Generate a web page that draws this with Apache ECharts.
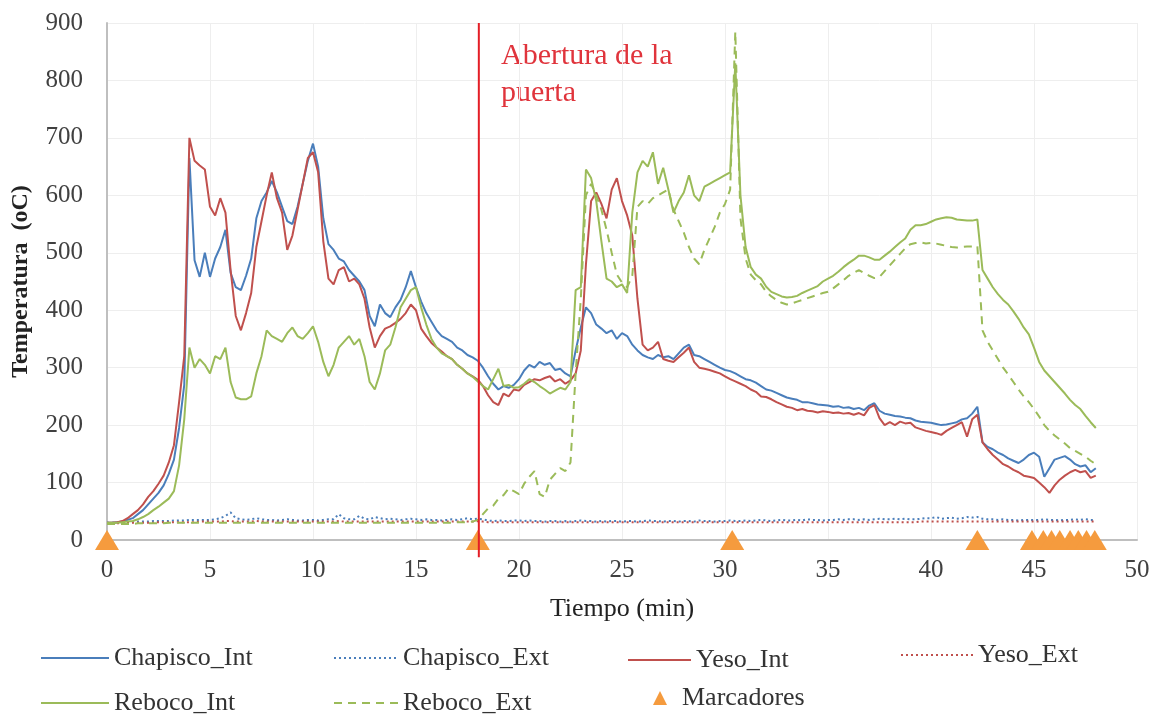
<!DOCTYPE html>
<html>
<head>
<meta charset="utf-8">
<script src="https://cdn.jsdelivr.net/npm/echarts@6/dist/echarts.min.js"></script>
<style>
html,body{margin:0;padding:0;background:#fff;}
#chart{width:1154px;height:716px;}
</style>
</head>
<body>
<div id="chart"></div>
<script>
// Sample times (min)
const tiempo = [
0,0.25,0.5,0.75,1,1.25,1.5,1.75,2,2.25,2.5,2.75,3,3.25,3.5,3.75,4,4.25,4.5,4.75,
5,5.25,5.5,5.75,6,6.25,6.5,6.75,7,7.25,7.5,7.75,8,8.25,8.5,8.75,9,9.25,9.5,9.75,
10,10.25,10.5,10.75,11,11.25,11.5,11.75,12,12.25,12.5,12.75,13,13.25,13.5,13.75,14,14.25,14.5,14.75,
15,15.25,15.5,15.75,16,16.25,16.5,16.75,17,17.25,17.5,17.75,18,18.25,18.5,18.75,19,19.25,19.5,19.75,
20,20.25,20.5,20.75,21,21.25,21.5,21.75,22,22.25,22.5,22.75,23,23.25,23.5,23.75,24,24.25,24.5,24.75,
25,25.25,25.5,25.75,26,26.25,26.5,26.75,27,27.25,27.5,27.75,28,28.25,28.5,28.75,29,29.25,29.5,29.75,
30,30.25,30.5,30.75,31,31.25,31.5,31.75,32,32.25,32.5,32.75,33,33.25,33.5,33.75,34,34.25,34.5,34.75,
35,35.25,35.5,35.75,36,36.25,36.5,36.75,37,37.25,37.5,37.75,38,38.25,38.5,38.75,39,39.25,39.5,39.75,
40,40.25,40.5,40.75,41,41.25,41.5,41.75,42,42.25,42.5,42.75,43,43.25,43.5,43.75,44,44.25,44.5,44.75,
45,45.25,45.5,45.75,46,46.25,46.5,46.75,47,47.25,47.5,47.75,
48
];

const chapiscoInt = [
30,30,31,32,35,38,45,52,62,72,82,95,115,140,195,270,665,487,458,500,
458,490,510,540,465,440,435,460,490,560,590,605,625,605,580,555,550,580,620,660,
690,650,560,515,505,490,485,470,460,450,435,390,372,410,395,388,405,418,440,468,
440,415,395,380,365,355,350,345,335,330,322,318,312,300,285,272,262,268,265,270,
280,295,305,300,310,305,308,296,298,290,285,330,370,405,395,375,368,360,365,350,
360,355,340,330,322,318,315,322,318,320,315,325,335,340,322,320,315,310,305,300,
296,294,290,285,280,278,274,268,262,260,256,252,248,246,244,240,240,238,236,235,
234,232,233,230,231,228,230,226,234,238,225,220,218,216,215,213,212,208,206,205,
204,202,200,201,203,205,210,212,220,232,170,162,158,152,148,142,138,134,140,148,
152,145,110,125,140,143,146,140,132,128,130,118,
125
];

const chapiscoExt = [
30,30,30,30,31,31,32,32,32,33,33,33,33,34,34,34,35,35,35,35,
35,36,38,42,48,38,36,35,36,38,36,35,35,34,35,36,35,34,34,35,
35,34,35,36,36,45,38,36,36,42,37,36,40,38,36,37,36,35,36,37,
36,35,36,35,35,34,35,36,35,36,38,36,37,36,34,33,34,33,33,34,
34,33,34,33,33,32,33,33,32,33,32,33,34,33,33,32,33,32,33,33,
32,33,33,32,33,34,33,33,32,33,33,32,33,33,32,34,33,33,32,33,
33,34,33,33,34,33,34,35,34,33,34,35,34,34,35,34,36,35,35,34,
35,35,36,35,36,36,35,36,35,36,37,36,36,37,36,37,36,36,37,38,
38,40,37,38,39,37,38,40,39,40,37,36,36,35,36,35,35,34,35,35,
35,35,36,35,35,34,35,35,36,35,36,35,
35
];

const yesoInt = [
30,30,31,33,38,45,52,62,75,85,98,112,135,165,240,320,700,660,652,645,
580,565,595,570,470,390,365,395,430,510,555,600,640,595,570,505,530,575,620,665,
675,640,520,455,445,470,475,450,455,445,420,370,335,355,368,372,378,385,395,410,
400,368,355,343,335,328,320,315,305,298,290,285,279,268,252,240,235,255,250,262,
260,270,275,280,278,282,285,276,280,272,278,290,330,480,590,605,585,560,610,630,
590,565,530,420,340,330,335,345,315,312,310,318,326,335,310,300,298,296,293,290,
285,280,276,272,268,262,258,250,249,245,240,236,232,230,226,228,225,224,222,224,
223,221,222,220,221,218,221,217,230,235,212,200,205,200,206,203,204,196,193,190,
188,186,183,190,195,200,205,180,210,218,170,158,148,140,132,128,122,118,112,110,
108,100,92,82,95,105,112,118,122,118,120,108,
112
];

const yesoExt = [
29,29,29,30,30,30,30,30,30,30,31,31,31,31,31,31,31,31,32,32,
32,32,32,33,33,32,32,32,32,33,32,32,32,32,32,32,32,32,32,32,
32,32,32,32,32,33,32,32,32,32,32,32,32,32,32,32,32,32,32,32,
32,32,32,32,32,32,32,32,32,32,32,32,33,32,31,31,31,31,31,31,
31,31,31,31,31,31,31,31,31,31,31,31,31,31,31,31,31,31,31,31,
31,31,31,31,31,31,31,31,31,31,31,31,31,31,31,31,31,31,31,31,
31,31,31,31,31,31,31,31,31,31,31,31,31,31,31,31,31,31,31,31,
31,31,31,31,31,31,31,31,31,31,31,31,31,31,31,31,31,31,32,32,
32,32,32,32,32,32,32,32,32,32,32,32,32,32,32,32,32,32,32,32,
32,32,32,32,32,32,32,32,32,32,32,32,
32
];

const rebocoInt = [
30,30,30,31,32,33,36,40,45,52,58,65,72,85,130,210,335,300,315,305,
290,320,315,335,275,248,245,245,250,290,320,365,355,350,345,360,370,355,350,360,
372,345,310,285,305,335,345,355,340,350,320,275,262,290,330,340,370,405,420,435,
440,405,375,350,335,325,320,315,305,298,290,284,276,268,262,280,298,268,270,265,
266,272,280,275,268,262,255,260,265,262,275,435,440,645,630,590,520,455,450,440,
445,430,570,640,660,650,675,620,648,610,570,590,605,635,600,590,615,620,625,630,
635,640,830,600,510,475,462,455,441,432,428,424,422,423,425,430,434,438,442,450,
455,460,467,475,482,488,495,495,492,488,488,495,502,510,518,525,540,548,548,550,
554,558,560,562,561,558,557,556,556,558,470,455,440,428,418,410,398,385,370,358,
335,310,295,285,275,265,255,244,235,228,216,205,
195
];

const rebocoExt = [
28,28,28,28,28,28,29,29,29,29,29,29,30,30,30,30,30,30,30,30,
30,30,30,30,30,30,30,30,30,30,30,30,30,30,30,30,30,30,30,30,
30,30,30,30,30,30,30,30,30,30,30,30,30,30,30,30,30,30,30,30,
30,30,30,30,30,30,30,30,31,31,31,32,35,45,55,60,72,78,90,85,
80,98,110,120,80,75,105,115,125,120,135,290,420,600,620,600,575,540,500,462,
448,440,460,580,590,585,595,600,605,610,575,555,535,510,490,480,505,525,545,570,
585,610,885,560,490,462,452,445,432,424,418,413,410,412,415,418,421,424,427,430,
432,438,445,452,460,465,470,465,460,456,458,468,478,488,498,508,515,517,518,516,
517,516,514,512,510,509,510,511,511,512,365,345,330,315,300,288,275,262,250,240,
228,215,200,190,182,175,168,160,155,150,145,138,
132
];

const marcadoresT = [0, 18.0, 30.35, 42.25, 44.9, 45.45, 45.85, 46.25, 46.75, 47.15, 47.55, 47.95];
const marcadoresV = [0, 0, 0, 0, 0, 0, 0, 0, 0, 0, 0, 0];

const aperturaT = 18.05;
const aperturaLabel = 'Abertura de la\npuerta';

const xTicks = {min: 0, max: 50, interval: 5};
const yTicks = {min: 0, max: 900, interval: 100};

const FONT = '"Liberation Serif", "Times New Roman", serif';
const C_BLUE = '#4A7EBB', C_RED = '#C0504D', C_GREEN = '#9BBB59', C_ORANGE = '#F59B3E';

function pairs(vals){ return tiempo.map((t, i) => [t, vals[i]]); }

const chart = echarts.init(document.getElementById('chart'), null, {renderer: 'canvas'});

function lineSeries(name, vals, color, type, width){
  return {
    name: name, type: 'line', data: pairs(vals), showSymbol: false, symbol: 'none',
    smooth: false, animation: false,
    lineStyle: {color: color, width: width, type: type, cap: 'butt'},
    itemStyle: {color: color},
    emphasis: {disabled: true}
  };
}

const legendText = {fontFamily: FONT, fontSize: 26, color: '#333'};
function leg(name, left, top, w, extra){
  return Object.assign({
    data: [name], left: left, top: top, padding: 0, itemWidth: w, itemHeight: 14,
    textStyle: Object.assign({}, legendText), selectedMode: false, itemGap: 0,
    itemStyle: {opacity: 0}
  }, extra || {});
}

const option = {
  backgroundColor: '#fff',
  animation: false,
  grid: {left: 107, right: 17, top: 23, bottom: 176, containLabel: false},
  xAxis: {
    type: 'value', min: xTicks.min, max: xTicks.max, interval: xTicks.interval,
    name: 'Tiempo (min)', nameLocation: 'middle', nameGap: 56,
    nameTextStyle: {fontFamily: FONT, fontSize: 26, color: '#222'},
    axisLine: {show: true, onZero: false, lineStyle: {color: '#BFBFBF', width: 2}},
    axisTick: {show: false},
    axisLabel: {fontFamily: FONT, fontSize: 25, color: '#404040', margin: 18},
    splitLine: {show: true, lineStyle: {color: '#EEEEEE', width: 1}}
  },
  yAxis: {
    type: 'value', min: yTicks.min, max: yTicks.max, interval: yTicks.interval,
    name: 'Temperatura  (oC)', nameLocation: 'middle', nameGap: 74,
    nameTextStyle: {fontFamily: FONT, fontSize: 24, fontWeight: 'bold', color: '#222'},
    axisLine: {show: true, lineStyle: {color: '#BFBFBF', width: 2}},
    axisTick: {show: false},
    axisLabel: {fontFamily: FONT, fontSize: 25, color: '#404040', margin: 24},
    splitLine: {show: true, lineStyle: {color: '#EEEEEE', width: 1}}
  },
  legend: [
    leg('Chapisco_Int', 40, 645, 68),
    leg('Chapisco_Ext', 333, 645, 64),
    leg('Yeso_Int', 627, 647, 63),
    leg('Yeso_Ext', 900, 642, 72),
    leg('Reboco_Int', 40, 690, 68),
    leg('Reboco_Ext', 333, 690, 64),
    leg('Marcadores', 653, 685, 14, {itemStyle: {opacity: 1}, textStyle: Object.assign({}, legendText, {padding: [0,0,0,10]})})
  ],
  graphic: [{
    type: 'text', left: 501, top: 38, silent: true,
    style: {text: aperturaLabel, fontFamily: FONT, fontSize: 30, lineHeight: 37, fill: '#E0343C'}
  }],
  series: [
    lineSeries('Chapisco_Int', chapiscoInt, C_BLUE, 'solid', 2),
    lineSeries('Chapisco_Ext', chapiscoExt, C_BLUE, [2, 3], 2),
    lineSeries('Yeso_Int', yesoInt, C_RED, 'solid', 2),
    lineSeries('Yeso_Ext', yesoExt, C_RED, [2, 3], 2),
    lineSeries('Reboco_Int', rebocoInt, C_GREEN, 'solid', 2),
    lineSeries('Reboco_Ext', rebocoExt, C_GREEN, [8, 6], 2),
    {
      name: 'Marcadores', type: 'scatter', symbol: 'triangle', symbolSize: [24, 20],
      data: marcadoresT.map((t, i) => [t, marcadoresV[i]]), clip: false,
      itemStyle: {color: C_ORANGE, opacity: 1}, z: 5, emphasis: {disabled: true}
    },
    {
      name: 'apertura', type: 'line', data: [[aperturaT, -30], [aperturaT, 900]],
      showSymbol: false, symbol: 'none', clip: false, z: 6,
      lineStyle: {color: '#E41E26', width: 2}, emphasis: {disabled: true}
    }
  ]
};
chart.setOption(option);
</script>
</body>
</html>
